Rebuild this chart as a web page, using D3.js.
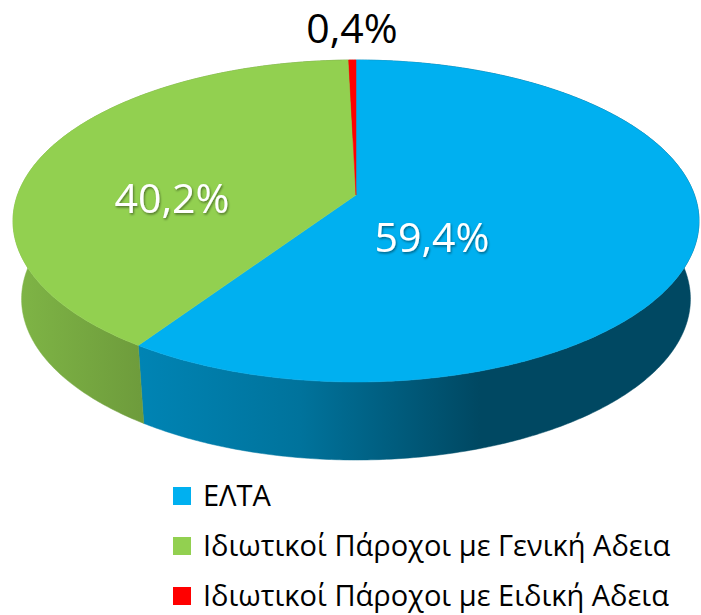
<!DOCTYPE html>
<html>
<head>
<meta charset="utf-8">
<script src="https://cdn.jsdelivr.net/npm/d3@7"></script>
<style>
  body { margin: 0; background: #fff; }
  svg { display: block; }
</style>
</head>
<body>
<script>
'use strict';

// data
const categories = ["ΕΛΤΑ", "Ιδιωτικοί Πάροχοι με Γενική Αδεια", "Ιδιωτικοί Πάροχοι με Ειδική Αδεια"];
const shares = [59.4, 40.2, 0.4];
const labels = ["59,4%", "40,2%", "0,4%"];
const colors = ["#00b0f0", "#92d050", "#ff0000"];

const width = 701, height = 615;

// 3d pie geometry (perspective, camera above the front)
const cx = 356, cy = 195;      // projected centre of the top face
const A = 338.5, B = 156.8;    // radii before perspective
const k = 0.1615;              // perspective strength
const depth = 78;              // side height
const bottomScale = 0.975;

// label placement relative to pie centre
const labelOffsets = [[76, 57], [-184, 18], [-4, -152]];
const labelColors = ["#fff", "#fff", "#000"];

const svg = d3.select('body')
  .append('svg')
  .attr('width', width)
  .attr('height', height);

const defs = svg.append('defs');

// soft shadow for white labels
const shadow = defs.append('filter')
  .attr('id', 'shadow')
  .attr('x', '-20%').attr('y', '-20%')
  .attr('width', '140%').attr('height', '140%');
shadow.append('feDropShadow')
  .attr('dx', 1).attr('dy', 1.5)
  .attr('stdDeviation', 1)
  .attr('flood-color', '#000')
  .attr('flood-opacity', 0.45);

// project an angle (clockwise from 12 o'clock) onto the top or bottom face
function project(a, r, bottom) {
  const u = Math.sin(a) * r;
  const v = -Math.cos(a) * r;
  const w = 1 - k * v;
  if (bottom) {
    return [cx + A * bottomScale * u / w, cy + depth + B * v / w];
  }
  return [cx + A * u / w, cy + B * v / w];
}

function arcPoints(a0, a1, bottom) {
  const n = Math.max(2, Math.ceil((a1 - a0) / 0.01));
  const pts = [];
  for (let i = 0; i <= n; i++) {
    pts.push(project(a0 + (a1 - a0) * i / n, 1, bottom));
  }
  return pts;
}

const pie = d3.pie().sort(null).value(d => d);
const arcs = pie(shares);

const line = d3.line();

// side shading: darker towards the right
const shadeStops = [[0, 0.35], [140, 0.8], [300, 1.2], [480, 2.5], [701, 2.5]];
arcs.forEach((d, i) => {
  const g = defs.append('linearGradient')
    .attr('id', 'side' + i)
    .attr('gradientUnits', 'userSpaceOnUse')
    .attr('x1', 0).attr('x2', width)
    .attr('y1', 0).attr('y2', 0);
  shadeStops.forEach(s => {
    g.append('stop')
      .attr('offset', s[0] / width)
      .attr('stop-color', d3.color(colors[i]).darker(s[1]).formatHex());
  });
});

// sides first
svg.append('g').selectAll('path.side')
  .data(arcs)
  .enter()
  .append('path')
    .attr('class', 'side')
    .attr('d', d => {
      const top = arcPoints(d.startAngle, d.endAngle, false);
      const bot = arcPoints(d.startAngle, d.endAngle, true).reverse();
      return line(top.concat(bot)) + 'Z';
    })
    .attr('fill', (d, i) => 'url(#side' + i + ')')
    .attr('stroke', (d, i) => 'url(#side' + i + ')')
    .attr('stroke-width', 0.5);

// top faces
svg.append('g').selectAll('path.top')
  .data(arcs)
  .enter()
  .append('path')
    .attr('class', 'top')
    .attr('d', d => line([[cx, cy]].concat(arcPoints(d.startAngle, d.endAngle, false))) + 'Z')
    .attr('fill', (d, i) => colors[i])
    .attr('stroke', (d, i) => colors[i])
    .attr('stroke-width', 0.5);

// data labels
svg.append('g').selectAll('text')
  .data(labels)
  .enter()
  .append('text')
    .attr('x', (d, i) => cx + labelOffsets[i][0])
    .attr('y', (d, i) => cy + labelOffsets[i][1])
    .attr('text-anchor', 'middle')
    .style('font-family', '"Open Sans", sans-serif')
    .style('font-size', '41px')
    .attr('fill', (d, i) => labelColors[i])
    .attr('filter', (d, i) => i < 2 ? 'url(#shadow)' : null)
    .text(d => d);

// legend
const legend = svg.append('g').attr('transform', 'translate(173, 487)');
const rows = legend.selectAll('g')
  .data(categories)
  .enter()
  .append('g')
    .attr('transform', (d, i) => 'translate(0,' + i * 50 + ')');

rows.append('rect')
  .attr('width', 18)
  .attr('height', 18)
  .attr('fill', (d, i) => colors[i]);

rows.append('text')
  .attr('x', 30)
  .attr('y', 19)
  .style('font-family', '"Open Sans", sans-serif')
  .style('font-size', '29px')
  .attr('fill', '#000')
  .text(d => d);
</script>
</body>
</html>
